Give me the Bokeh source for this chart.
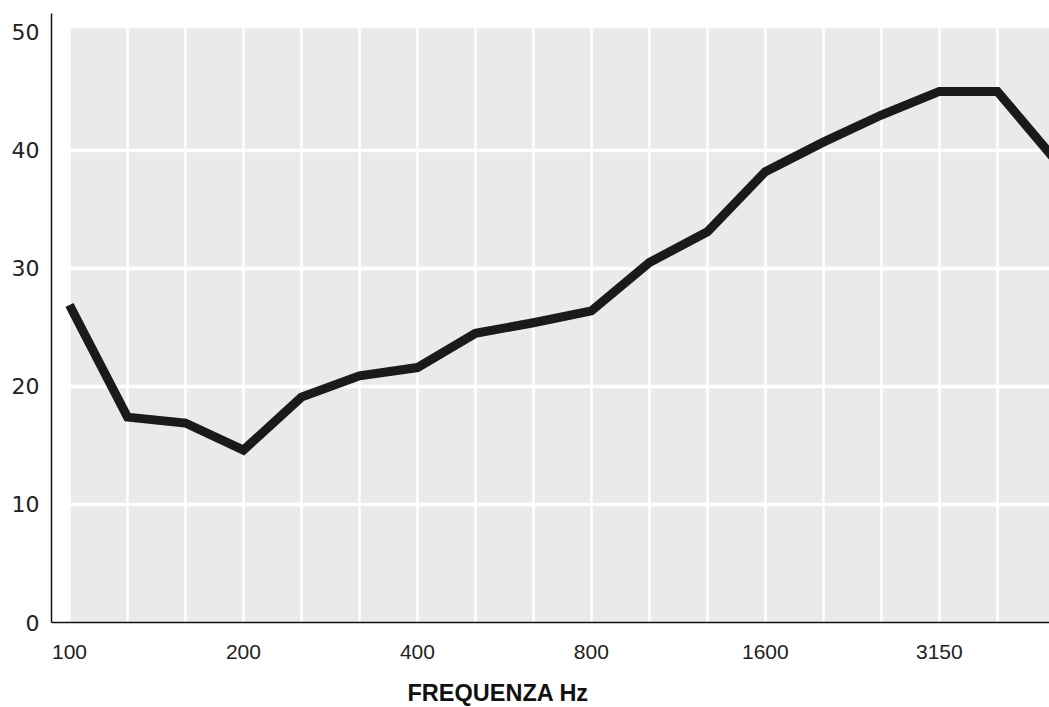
from bokeh.plotting import figure
from bokeh.models import Range1d, FixedTicker, Title
from bokeh.embed import file_html
from bokeh.resources import INLINE

# third-octave band centre frequencies (Hz)
bands = ["100", "125", "160", "200", "250", "315", "400", "500", "630",
         "800", "1000", "1250", "1600", "2000", "2500", "3150", "4000", "5000"]
# curve values
values = [26.9, 17.4, 16.9, 14.6, 19.1, 20.9, 21.6, 24.5, 25.4,
          26.4, 30.5, 33.1, 38.2, 40.7, 43.0, 45.0, 45.0, 39.2]
# labelled x ticks
labeled_bands = ["100", "200", "400", "800", "1600", "3150"]
# y ticks
y_ticks = [0, 10, 20, 30, 40, 50]
y_grid_ticks = [10, 20, 30, 40]
x_title = "FREQUENZA Hz"

idx = list(range(len(bands)))
label_idx = [bands.index(b) for b in labeled_bands]

p = figure(width=1049, height=707,
           x_range=Range1d(-0.31, 16.9), y_range=Range1d(0, 51.6),
           output_backend="svg", toolbar_location=None,
           min_border_left=51, min_border_right=0,
           min_border_top=13, min_border_bottom=85)
p.outline_line_color = None
p.background_fill_color = "white"
p.border_fill_color = "white"

# grey plotting area
p.quad(left=[idx[0] - 0.02], right=[idx[-1] + 1], bottom=[-1],
       top=[y_ticks[-1] + 0.34], fill_color="#eaeaea", line_color=None,
       level="image")

# data curve
p.line(idx, values, line_width=9, line_color="#1a1a1a", line_join="miter")

# grids
p.xgrid.ticker = FixedTicker(ticks=idx)
p.xgrid.grid_line_color = "white"
p.xgrid.grid_line_width = 2.5
p.ygrid.ticker = FixedTicker(ticks=y_grid_ticks)
p.ygrid.grid_line_color = "white"
p.ygrid.grid_line_width = 3.5

# x axis
p.xaxis.ticker = FixedTicker(ticks=label_idx)
p.xaxis.major_label_overrides = {i: b for i, b in zip(label_idx, labeled_bands)}
p.xaxis.major_label_text_font = "Liberation Sans"
p.xaxis.major_label_text_font_size = "21px"
p.xaxis.major_label_text_color = "#222222"
p.xaxis.major_label_standoff = 22

# y axis
p.yaxis.ticker = FixedTicker(ticks=y_ticks)
p.yaxis.major_label_text_font = "DejaVu Sans"
p.yaxis.major_label_text_font_size = "22px"
p.yaxis.major_label_text_color = "#222222"
p.yaxis.major_label_standoff = 12

for ax in (p.xaxis[0], p.yaxis[0]):
    ax.axis_line_color = "#111111"
    ax.axis_line_width = 1.5
    ax.major_tick_in = 0
    ax.major_tick_out = 0
    ax.minor_tick_in = 0
    ax.minor_tick_out = 0

# small spacer between tick labels and the axis title
p.add_layout(Title(text=" ", text_font_size="3px", standoff=9), "below")

# axis title below the tick labels
p.add_layout(Title(text=x_title, align="left", offset=356,
                   vertical_align="bottom", text_baseline="alphabetic",
                   text_font="Liberation Sans", text_font_size="23.5px",
                   text_font_style="bold", text_color="#111111",
                   standoff=4), "below")

open("out.html", "w").write(file_html(p, INLINE))
